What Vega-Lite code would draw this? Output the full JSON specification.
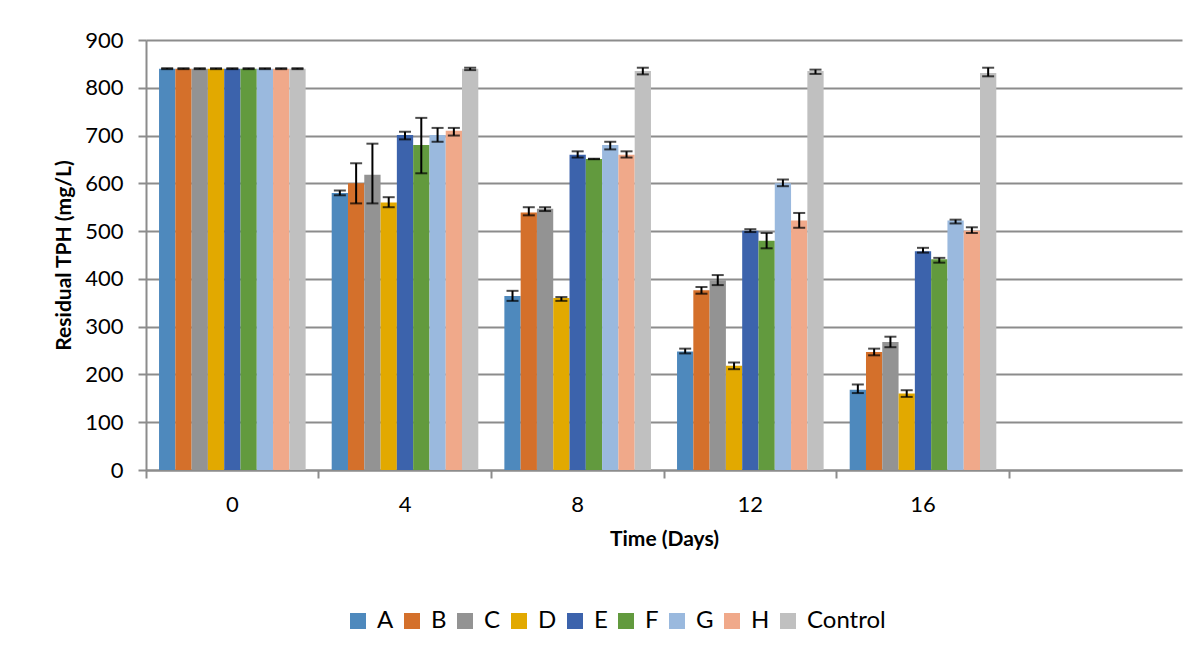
{
  "$schema": "https://vega.github.io/schema/vega-lite/v6.json",
  "width": 1036,
  "height": 430,
  "autosize": {"type": "none"},
  "padding": {"left": 146, "top": 40, "right": 14, "bottom": 181},
  "background": "white",
  "config": {
    "font": "Lato",
    "view": {"stroke": null},
    "axis": {"domainColor": "#8c8c8c", "domainWidth": 2, "tickColor": "#8c8c8c", "tickWidth": 2, "labelColor": "#000000", "titleColor": "#000000", "labelFont": "Lato", "titleFont": "Lato"}
  },
  "data": {
    "values": [
      {"day": "0", "series": "A", "value": 840, "lo": 839, "hi": 841},
      {"day": "0", "series": "B", "value": 840, "lo": 839, "hi": 841},
      {"day": "0", "series": "C", "value": 840, "lo": 839, "hi": 841},
      {"day": "0", "series": "D", "value": 840, "lo": 839, "hi": 841},
      {"day": "0", "series": "E", "value": 840, "lo": 839, "hi": 841},
      {"day": "0", "series": "F", "value": 840, "lo": 839, "hi": 841},
      {"day": "0", "series": "G", "value": 840, "lo": 839, "hi": 841},
      {"day": "0", "series": "H", "value": 840, "lo": 839, "hi": 841},
      {"day": "0", "series": "Control", "value": 840, "lo": 839, "hi": 841},
      {"day": "4", "series": "A", "value": 580, "lo": 575, "hi": 585},
      {"day": "4", "series": "B", "value": 600, "lo": 558, "hi": 642},
      {"day": "4", "series": "C", "value": 618, "lo": 558, "hi": 683},
      {"day": "4", "series": "D", "value": 560, "lo": 550, "hi": 571},
      {"day": "4", "series": "E", "value": 701, "lo": 692, "hi": 708},
      {"day": "4", "series": "F", "value": 680, "lo": 621, "hi": 737},
      {"day": "4", "series": "G", "value": 701, "lo": 687, "hi": 716},
      {"day": "4", "series": "H", "value": 710, "lo": 700, "hi": 716},
      {"day": "4", "series": "Control", "value": 840, "lo": 837, "hi": 842},
      {"day": "8", "series": "A", "value": 364, "lo": 354, "hi": 375},
      {"day": "8", "series": "B", "value": 539, "lo": 533, "hi": 550},
      {"day": "8", "series": "C", "value": 547, "lo": 542, "hi": 550},
      {"day": "8", "series": "D", "value": 360, "lo": 354, "hi": 362},
      {"day": "8", "series": "E", "value": 660, "lo": 654, "hi": 667},
      {"day": "8", "series": "F", "value": 651, "lo": 650.5, "hi": 651.5},
      {"day": "8", "series": "G", "value": 680, "lo": 671, "hi": 687},
      {"day": "8", "series": "H", "value": 660, "lo": 654, "hi": 667},
      {"day": "8", "series": "Control", "value": 835, "lo": 828, "hi": 842},
      {"day": "12", "series": "A", "value": 248, "lo": 244, "hi": 254},
      {"day": "12", "series": "B", "value": 376, "lo": 369, "hi": 383},
      {"day": "12", "series": "C", "value": 397, "lo": 387, "hi": 408},
      {"day": "12", "series": "D", "value": 218, "lo": 211, "hi": 225},
      {"day": "12", "series": "E", "value": 501, "lo": 498, "hi": 504},
      {"day": "12", "series": "F", "value": 480, "lo": 464, "hi": 496},
      {"day": "12", "series": "G", "value": 600, "lo": 594, "hi": 608},
      {"day": "12", "series": "H", "value": 522, "lo": 507, "hi": 538},
      {"day": "12", "series": "Control", "value": 835, "lo": 829, "hi": 838},
      {"day": "16", "series": "A", "value": 168, "lo": 161, "hi": 179},
      {"day": "16", "series": "B", "value": 247, "lo": 240, "hi": 254},
      {"day": "16", "series": "C", "value": 268, "lo": 257, "hi": 279},
      {"day": "16", "series": "D", "value": 160, "lo": 153, "hi": 167},
      {"day": "16", "series": "E", "value": 458, "lo": 455, "hi": 465},
      {"day": "16", "series": "F", "value": 441, "lo": 434, "hi": 444},
      {"day": "16", "series": "G", "value": 522, "lo": 516, "hi": 524},
      {"day": "16", "series": "H", "value": 501, "lo": 496, "hi": 508},
      {"day": "16", "series": "Control", "value": 831, "lo": 824, "hi": 842}
    ]
  },
  "encoding": {
    "x": {
      "field": "day",
      "type": "ordinal",
      "scale": {"domain": ["0", "4", "8", "12", "16", "20"], "paddingInner": 0, "paddingOuter": 0},
      "axis": {
        "title": "Time (Days)",
        "titleFontSize": 21,
        "titleFontWeight": "bold",
        "titlePadding": 13,
        "labelFontSize": 22,
        "labelAngle": 0,
        "labelPadding": 16,
        "tickSize": 8,
        "bandPosition": 0,
        "grid": false,
        "labelExpr": "datum.value == '20' ? '' : datum.label"
      }
    },
    "xOffset": {
      "field": "series",
      "type": "nominal",
      "scale": {"domain": ["A", "B", "C", "D", "E", "F", "G", "H", "Control"], "paddingInner": 0, "paddingOuter": 0.8}
    }
  },
  "layer": [
    {
      "mark": {"type": "bar"},
      "encoding": {
        "y": {
          "field": "value",
          "type": "quantitative",
          "scale": {"domain": [0, 900], "nice": false},
          "axis": {
            "title": "Residual  TPH (mg/L)",
            "titleFontSize": 21,
            "titleFontWeight": "bold",
            "titlePadding": 10,
            "labelFontSize": 22,
            "labelPadding": 15,
            "tickSize": 8,
            "values": [0, 100, 200, 300, 400, 500, 600, 700, 800, 900],
            "grid": true,
            "gridColor": "#8c8c8c",
            "gridWidth": 2
          }
        },
        "color": {
          "field": "series",
          "type": "nominal",
          "scale": {
            "domain": ["A", "B", "C", "D", "E", "F", "G", "H", "Control"],
            "range": ["#4E89BD", "#D4702B", "#939393", "#E2A900", "#3C63AC", "#629A3E", "#9AB9DE", "#F0A98A", "#C0C0C0"]
          },
          "legend": {
            "title": null,
            "orient": "none",
            "legendX": 200,
            "legendY": 569,
            "direction": "horizontal",
            "symbolType": "square",
            "symbolSize": 256,
            "symbolStrokeWidth": 0,
            "labelFontSize": 24,
            "labelColor": "#000000",
            "labelOffset": 7,
            "columnPadding": 6
          }
        }
      }
    },
    {
      "mark": {"type": "rule", "color": "#000000", "strokeWidth": 2},
      "encoding": {
        "y": {"field": "lo", "type": "quantitative"},
        "y2": {"field": "hi"}
      }
    },
    {
      "mark": {"type": "tick", "color": "#000000", "size": 12, "thickness": 2},
      "encoding": {
        "y": {"field": "lo", "type": "quantitative"}
      }
    },
    {
      "mark": {"type": "tick", "color": "#000000", "size": 12, "thickness": 2},
      "encoding": {
        "y": {"field": "hi", "type": "quantitative"}
      }
    }
  ]
}
